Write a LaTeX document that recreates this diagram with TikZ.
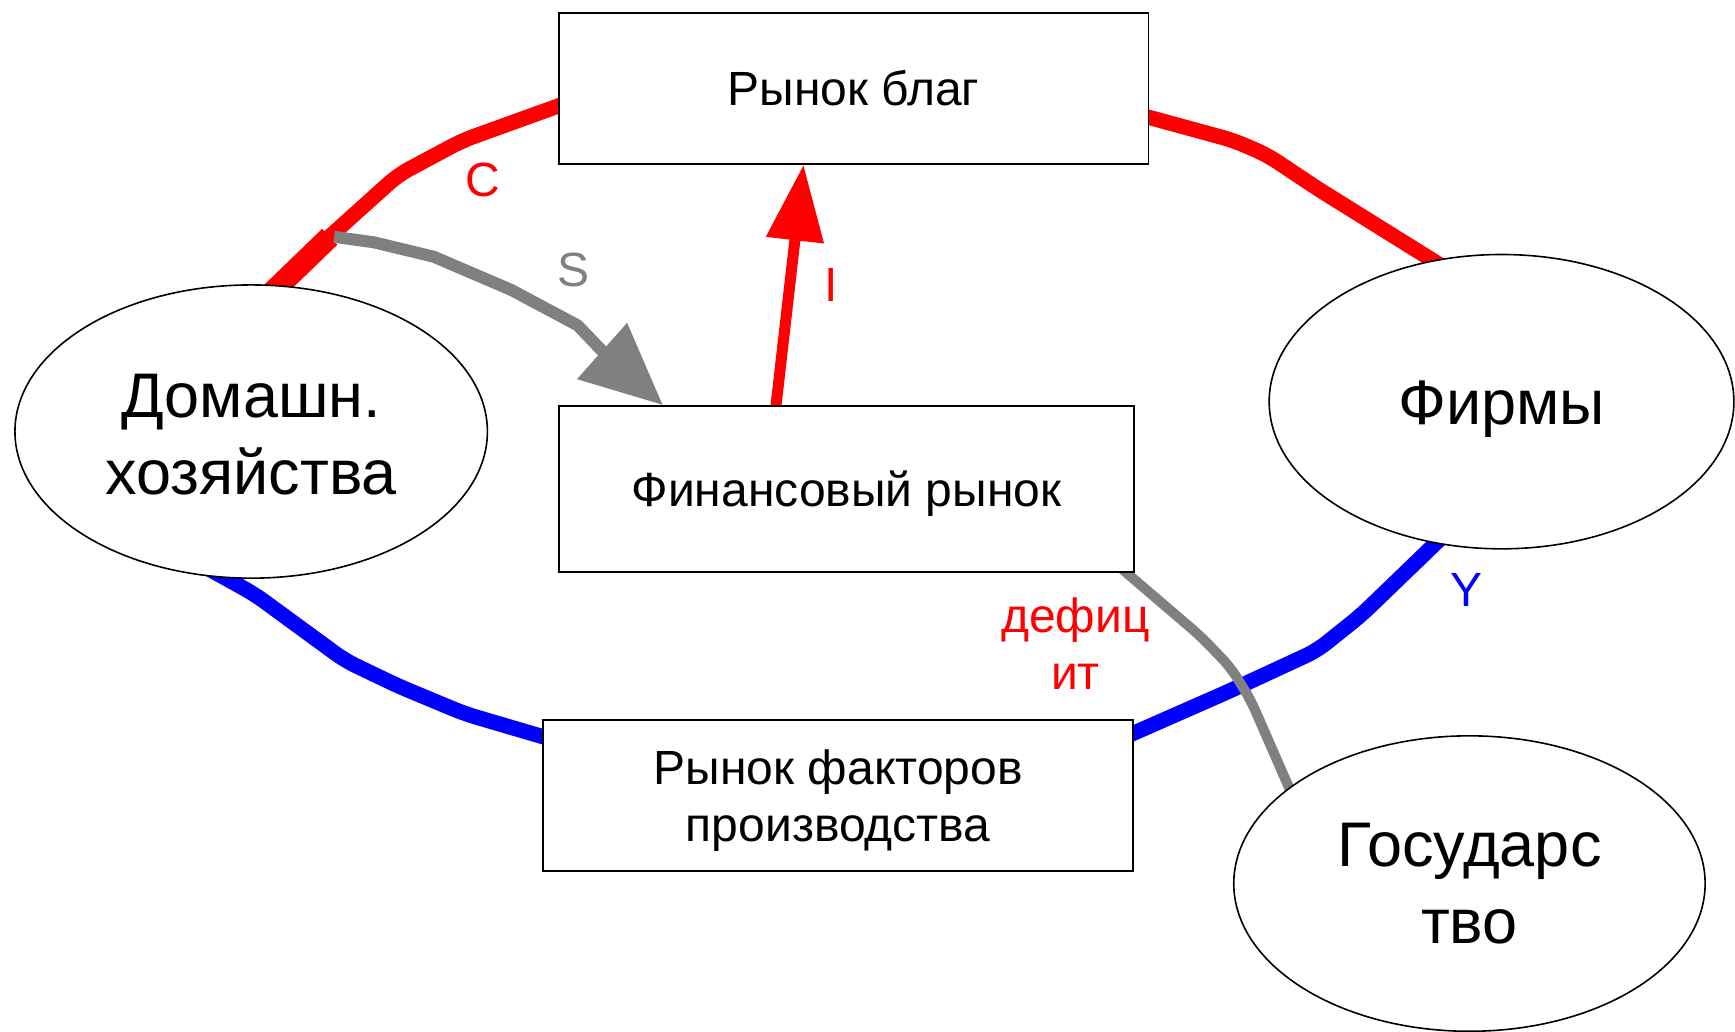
\documentclass[tikz,border=0pt]{standalone}
\usepackage{fontspec}
\setmainfont{Liberation Sans}
\usetikzlibrary{shapes.geometric,arrows.meta,calc,backgrounds}
\newlength\pxu
\setlength\pxu{0.5533pt}
\definecolor{fred}{RGB}{255,0,0}
\definecolor{fblue}{RGB}{0,0,255}
\definecolor{fgray}{RGB}{128,128,128}
\begin{document}
\begin{tikzpicture}[x=0.5533pt,y=-0.5533pt,
  box/.style={draw=black,line width=0.9pt,fill=white,rectangle,inner sep=0pt,align=center,font=\fontsize{24}{28.2}\selectfont},
  oval/.style={draw=black,line width=0.8pt,fill=white,ellipse,inner sep=0pt,align=center,font=\fontsize{31.5}{38.5}\selectfont},
  thickflow/.style={line width=7.6pt,line join=round,rounded corners=6pt},
  lbl/.style={font=\fontsize{24}{28.5}\selectfont,inner sep=0pt,align=center}
]
\useasboundingbox (0,0) rectangle (1568,932);
% nodes
\node[box,minimum width=533\pxu,minimum height=136\pxu] (gb) at (771.5,80) {Рынок благ};
\node[box,minimum width=520\pxu,minimum height=150\pxu,text depth=0pt] (fin) at (765,442) {Финансовый рынок};
\node[box,minimum width=533\pxu,minimum height=136\pxu,text depth=0pt] (fac) at (757.5,719) {Рынок факторов\\производства};
\node[oval,minimum width=427\pxu,minimum height=265\pxu,text depth=0pt] (hh) at (227,390) {\raisebox{-3pt}{Домашн.}\\\raisebox{-3pt}{хозяйства}};
\node[oval,minimum width=420\pxu,minimum height=266\pxu,text depth=0pt] (firm) at (1357,363) {\raisebox{-1pt}{Фирмы}};
\node[oval,minimum width=426\pxu,minimum height=267\pxu] (gov) at (1328,798.5) {Государс\\тво};
% labels
\node[lbl,text=fred] (lc) at (436,163) {C};
\node[lbl,text=fgray] (ls) at (518,244) {S};
\node[lbl,text=fred] (li) at (751,258) {I};
\node[lbl,text=fblue] (ly) at (1325,533) {Y};
\node[lbl,text=fred] (ld) at (972,582) {дефиц\\ит};
\coordinate (sstart) at (302,214);
\begin{scope}[on background layer]
  % C flow
  \draw[thickflow,fred] ($(hh.80)!-10pt!(300,212)$) -- (300,212) -- (360,158) -- (418,127) -- ($(gb.west)+(8,13)$);
  \draw[line width=11pt,fred] ($(hh.79)!-10pt!(298,214)$) -- (298,214);
  % right red flow
  \draw[thickflow,fred] ($(gb.east)+(-8,24)$) -- (1115,127) -- (1145,140) -- (1190,170) -- ($(firm.116)!-10pt!(1190,170)$);
  % blue flows
  \draw[thickflow,fblue] ($(hh.260)!-10pt!(230,537)$) -- (230,537) -- (312,597) -- (360,620) -- (420,645) -- ($(fac.west)+(8,-51)$);
  \draw[thickflow,fblue] ($(fac.east)+(-8,-53)$) -- (1110,625) -- (1190,588) -- (1230,556) -- ($(firm.245)!-10pt!(1230,556)$);
  % deficit
  \draw[line width=5pt,fgray,line join=round,rounded corners=6pt] ($(fin.south east)+(-17,-8)$) -- (1050,545) -- (1085,575) -- (1112,603) -- (1130,632) -- ($(gov.152)!-10pt!(1130,632)$);
  % S arrow
  \draw[line width=6pt,fgray,line join=round,-{Triangle[length=40.8pt,width=36pt]}] (sstart) -- (338,219) -- (392,232) -- (462,262) -- (522,294) -- (545,318) -- ($(fin.north west)+(95,0)$);
  % I arrow
  \draw[line width=5.5pt,fred,-{Triangle[length=38pt,width=27.7pt]}] ($(fin.north west)+(196,10)$) -- ($(gb.south west)+(222,0)$);
\end{scope}
\end{tikzpicture}
\end{document}
